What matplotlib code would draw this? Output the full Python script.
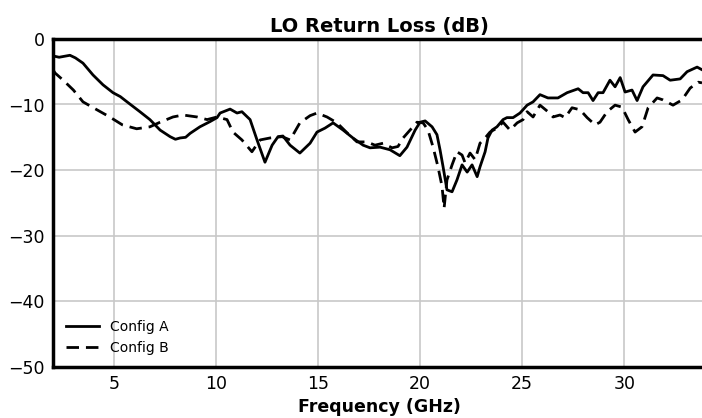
import matplotlib.pyplot as plt

# Config A (solid)
freq_a = [2.0, 2.3, 2.83, 3.1, 3.47, 3.96, 4.45, 4.94, 5.3, 5.63, 6.26, 6.75, 7.25, 7.74,
          8.0, 8.23, 8.5, 8.72, 9.2, 9.7, 10.04, 10.19, 10.68, 11.02, 11.26, 11.66, 12.0,
          12.39, 12.74, 13.03, 13.27, 13.62, 14.1, 14.6, 14.94, 15.33, 15.73, 16.22,
          16.7, 17.2, 17.54, 18.03, 18.52, 19.0, 19.35, 19.75, 19.99, 20.24, 20.58,
          20.82, 20.97, 21.12, 21.31, 21.56, 21.8, 22.05, 22.3, 22.54, 22.79, 22.93,
          23.18, 23.32, 23.52, 23.76, 24.06, 24.25, 24.55, 24.89, 25.24, 25.53, 25.87,
          26.26, 26.75, 27.2, 27.74, 27.98, 28.23, 28.47, 28.72, 28.96, 29.3, 29.55,
          29.8, 30.04, 30.38, 30.63, 30.92, 31.41, 31.9, 32.25, 32.74, 33.08, 33.57, 33.81]
loss_a = [-2.6, -2.8, -2.5, -2.9, -3.7, -5.5, -7.0, -8.2, -8.8, -9.6, -11.1, -12.3, -13.9,
          -14.9, -15.3, -15.1, -15.0, -14.4, -13.4, -12.6, -12.0, -11.3, -10.7, -11.3,
          -11.1, -12.3, -15.4, -18.8, -16.2, -14.9, -14.8, -16.2, -17.4, -15.9, -14.2,
          -13.6, -12.8, -13.9, -15.1, -16.2, -16.6, -16.5, -16.9, -17.8, -16.5, -13.9,
          -12.7, -12.5, -13.4, -14.6, -16.9, -19.5, -23.0, -23.3, -21.5, -19.2, -20.3,
          -19.2, -21.0, -19.5, -17.2, -15.1, -13.9, -13.4, -12.3, -12.0, -12.0, -11.3,
          -10.1, -9.6, -8.5, -9.0, -9.0, -8.2, -7.6, -8.2, -8.2, -9.4, -8.2, -8.2, -6.3,
          -7.3, -5.9, -8.1, -7.8, -9.4, -7.3, -5.5, -5.6, -6.3, -6.1, -5.0, -4.3, -4.7]

# Config B (dashed)
freq_b = [2.0, 2.1, 2.5, 3.0, 3.47, 4.15, 4.78, 5.4, 6.1, 6.75, 7.25, 7.88, 8.37, 9.06,
          9.55, 10.04, 10.53, 10.82, 11.26, 11.75, 12.15, 12.64, 13.23, 13.62, 14.1,
          14.6, 14.94, 15.43, 15.92, 16.41, 16.9, 17.39, 17.78, 18.18, 18.62, 18.91,
          19.16, 19.5, 19.84, 20.14, 20.38, 20.63, 20.87, 21.07, 21.17, 21.31, 21.56,
          21.8, 22.05, 22.2, 22.44, 22.69, 22.93, 23.18, 23.42, 23.76, 24.06, 24.4,
          24.75, 25.04, 25.24, 25.53, 25.87, 26.26, 26.51, 26.85, 27.1, 27.44, 27.83,
          28.18, 28.57, 28.81, 29.16, 29.55, 29.89, 30.19, 30.53, 30.87, 31.17, 31.61,
          31.9, 32.39, 32.83, 33.23, 33.62, 33.81]
loss_b = [-4.7, -5.2, -6.3, -7.8, -9.6, -10.8, -11.9, -13.1, -13.7, -13.4, -12.7, -11.9,
          -11.6, -11.9, -12.3, -11.9, -12.3, -14.2, -15.4, -17.2, -15.4, -15.1, -14.9,
          -15.4, -12.8, -11.7, -11.3, -11.9, -12.8, -14.3, -15.7, -15.7, -16.2, -15.9,
          -16.6, -16.4, -15.1, -13.9, -12.7, -12.8, -13.9, -16.5, -19.5, -22.5, -25.8,
          -21.5, -19.2, -17.2, -17.7, -18.9, -17.4, -18.4, -15.9, -15.1, -14.2, -13.6,
          -12.7, -13.9, -12.8, -12.3, -11.1, -11.9, -10.1, -11.1, -11.9, -11.6, -12.0,
          -10.5, -10.8, -12.0, -13.1, -12.7, -11.1, -10.1, -10.4, -12.3, -14.2, -13.4,
          -10.5, -9.0, -9.3, -10.1, -9.3, -7.5, -6.6, -6.7]

fig = plt.figure(figsize=(7.02, 4.18), dpi=100)
ax = fig.add_axes([0.0755, 0.122, 0.93, 0.785])

ax.plot(freq_a, loss_a, color='black', lw=2, label='Config A')
ax.plot(freq_b, loss_b, color='black', lw=2, ls=(0, (4.5, 2.5)), label='Config B')

ax.set_xlim(2, 34)
ax.set_ylim(-50, 0)
ax.set_xticks([5, 10, 15, 20, 25, 30])
ax.set_yticks([0, -10, -20, -30, -40, -50])
ax.grid(True, color='#c8c8c8', lw=1.2)
ax.tick_params(length=0, labelsize=12.5, pad=6)
for s in ax.spines.values():
    s.set_linewidth(2.5)

ax.set_title('LO Return Loss (dB)', fontsize=14, fontweight='bold', pad=5)
ax.set_xlabel('Frequency (GHz)', fontsize=12.5, fontweight='bold', labelpad=3)
ax.legend(loc='lower left', frameon=False, fontsize=10, handlelength=2.4)

fig.savefig('out.png', dpi=100)
